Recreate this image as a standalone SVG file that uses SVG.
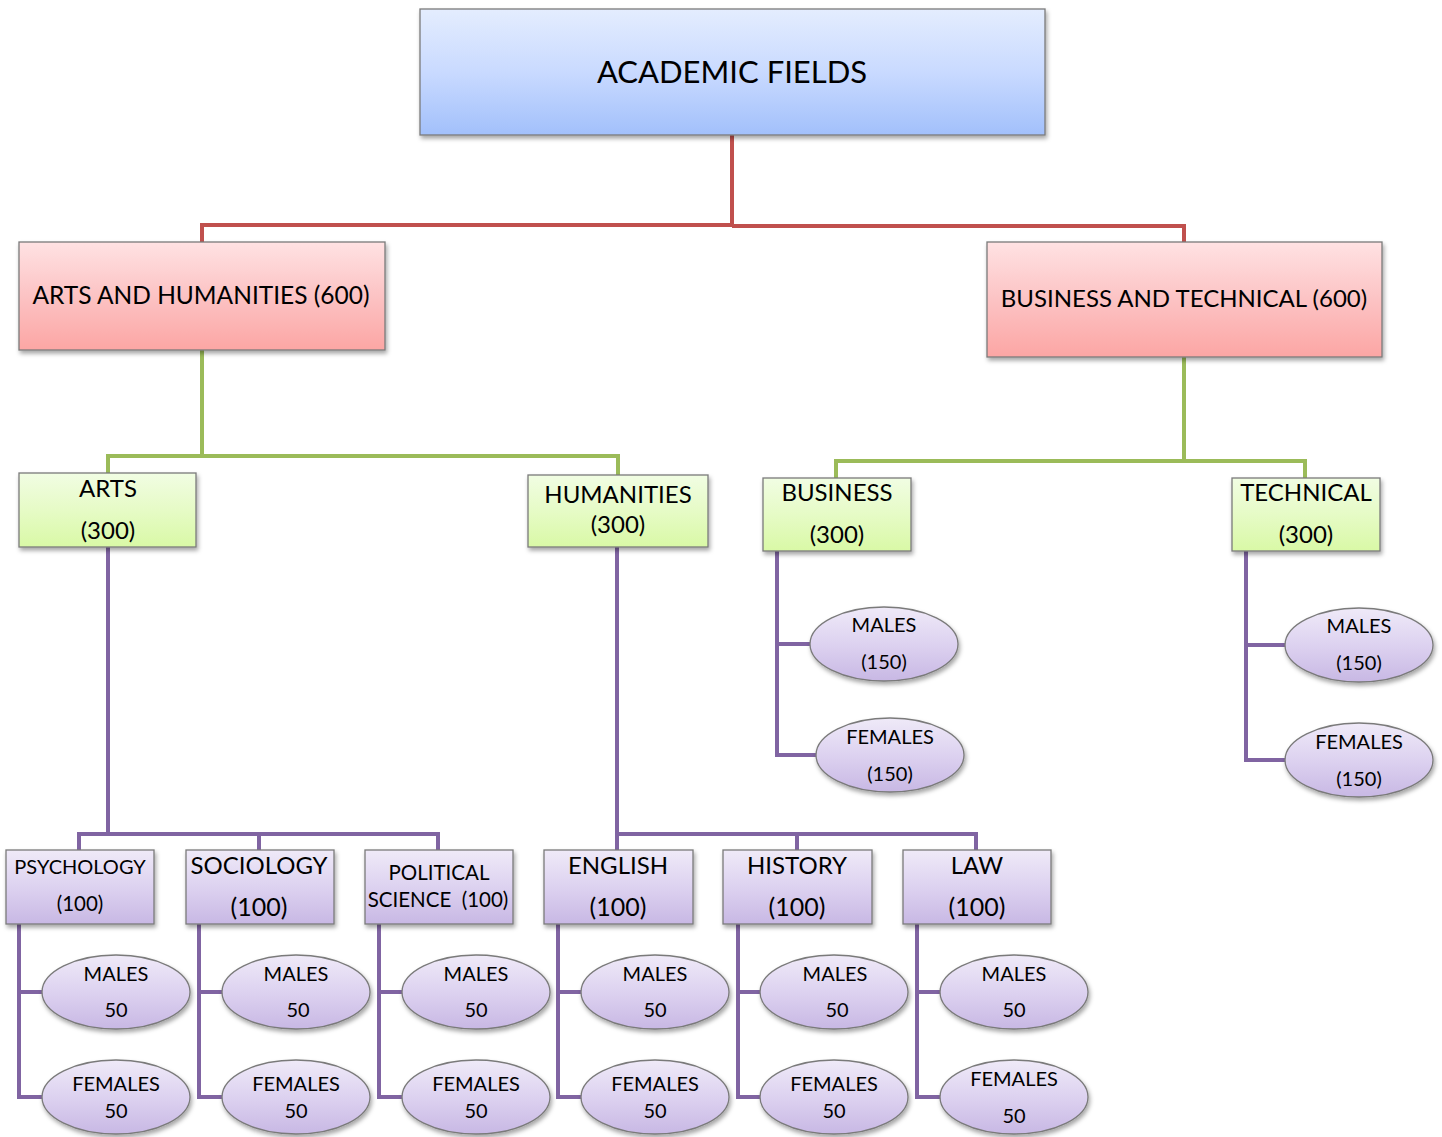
<svg xmlns="http://www.w3.org/2000/svg" width="1442" height="1137" viewBox="0 0 1442 1137">
<defs>
<linearGradient id="gBlue" x1="0" y1="0" x2="0" y2="1"><stop offset="0" stop-color="#e4edfe"/><stop offset="0.5" stop-color="#c9daff"/><stop offset="1" stop-color="#a2c0fb"/></linearGradient>
<linearGradient id="gRed" x1="0" y1="0" x2="0" y2="1"><stop offset="0" stop-color="#ffe2e3"/><stop offset="0.5" stop-color="#fcc3c4"/><stop offset="1" stop-color="#fca6a4"/></linearGradient>
<linearGradient id="gGreen" x1="0" y1="0" x2="0" y2="1"><stop offset="0" stop-color="#f1fde3"/><stop offset="0.5" stop-color="#e6fbc6"/><stop offset="1" stop-color="#d9f9a6"/></linearGradient>
<linearGradient id="gPurple" x1="0" y1="0" x2="0" y2="1"><stop offset="0" stop-color="#efeaf8"/><stop offset="0.5" stop-color="#ddd2f0"/><stop offset="1" stop-color="#c8b8e4"/></linearGradient>
<filter id="sh" x="-10%" y="-10%" width="125%" height="135%"><feDropShadow dx="1.5" dy="3" stdDeviation="2" flood-color="#000" flood-opacity="0.35"/></filter>
</defs>
<style>
.box{stroke:#7a7a7a;stroke-width:1.3;filter:url(#sh)}
.blue{fill:url(#gBlue)}.red{fill:url(#gRed)}.green{fill:url(#gGreen)}.purple{fill:url(#gPurple)}
.t{font-family:Lato,"Open Sans","Liberation Sans",sans-serif;fill:#000;text-anchor:middle}
.pre{white-space:pre}
.c1{fill:none;stroke:#c0504d;stroke-width:4}
.c2{fill:none;stroke:#9bbb59;stroke-width:4}
.c3{fill:none;stroke:#8064a2;stroke-width:4}
</style>
<rect width="1442" height="1137" fill="#fff"/>
<g id="connectors">
<path class="c1" d="M732 135 V225 M202 242 V225 H732 M1184 242 V226 H732"/>
<path class="c2" d="M202 350 V456 M108 473 V456 H618 V475"/>
<path class="c2" d="M1184 357 V461 M836 478 V461 H1305 V478"/>
<path class="c3" d="M108 547 V834 M79 850 V834 H438 V850 M259 834 V850"/>
<path class="c3" d="M617 547 V834 H976 V850 M617 834 V850 M797 834 V850"/>
<path class="c3" d="M777 551 V755 H816 M777 644 H810"/>
<path class="c3" d="M1246 551 V760 H1286 M1246 645 H1286"/>
<path class="c3" d="M19 924 V1097 H43 M19 992 H43"/>
<path class="c3" d="M199 924 V1097 H223 M199 992 H223"/>
<path class="c3" d="M379 924 V1097 H403 M379 992 H403"/>
<path class="c3" d="M558 924 V1097 H582 M558 992 H582"/>
<path class="c3" d="M738 924 V1097 H761 M738 992 H761"/>
<path class="c3" d="M917 924 V1097 H941 M917 992 H941"/>
</g>
<g id="academic-fields"><rect class="box blue" x="420" y="9" width="625" height="126"/><text class="t" x="732" y="83" font-size="31">ACADEMIC FIELDS</text></g>
<g id="arts-and-humanities"><rect class="box red" x="19" y="242" width="366" height="108"/><text class="t" x="201" y="304" font-size="24.5">ARTS AND HUMANITIES (600)</text></g>
<g id="business-and-technical"><rect class="box red" x="987" y="242" width="395" height="115"/><text class="t" x="1184" y="307" font-size="24">BUSINESS AND TECHNICAL (600)</text></g>
<g id="arts"><rect class="box green" x="19" y="473" width="177" height="74"/><text class="t" x="108" y="497" font-size="24">ARTS</text><text class="t" x="108" y="539" font-size="24">(300)</text></g>
<g id="humanities"><rect class="box green" x="528" y="475" width="180" height="72"/><text class="t" x="618" y="503" font-size="24">HUMANITIES</text><text class="t" x="618" y="533" font-size="24">(300)</text></g>
<g id="business"><rect class="box green" x="763" y="478" width="148" height="73"/><text class="t" x="837" y="501" font-size="24">BUSINESS</text><text class="t" x="837" y="543" font-size="24">(300)</text></g>
<g id="technical"><rect class="box green" x="1232" y="478" width="148" height="73"/><text class="t" x="1306" y="501" font-size="24">TECHNICAL</text><text class="t" x="1306" y="543" font-size="24">(300)</text></g>
<g id="business-males"><ellipse class="box purple" cx="884" cy="644" rx="74" ry="37"/><text class="t" x="884" y="632" font-size="20">MALES</text><text class="t" x="884" y="669" font-size="20">(150)</text></g>
<g id="business-females"><ellipse class="box purple" cx="890" cy="755" rx="74" ry="37"/><text class="t" x="890" y="744" font-size="20">FEMALES</text><text class="t" x="890" y="781" font-size="20">(150)</text></g>
<g id="technical-males"><ellipse class="box purple" cx="1359" cy="645" rx="74" ry="37"/><text class="t" x="1359" y="633" font-size="20">MALES</text><text class="t" x="1359" y="670" font-size="20">(150)</text></g>
<g id="technical-females"><ellipse class="box purple" cx="1359" cy="760" rx="74" ry="37"/><text class="t" x="1359" y="749" font-size="20">FEMALES</text><text class="t" x="1359" y="786" font-size="20">(150)</text></g>
<g id="psychology"><rect class="box purple" x="6" y="850" width="148" height="74"/><text class="t" x="80" y="874" font-size="20">PSYCHOLOGY</text><text class="t" x="80" y="911" font-size="20.5">(100)</text></g>
<g id="sociology"><rect class="box purple" x="186" y="850" width="148" height="74"/><text class="t" x="259" y="874" font-size="24">SOCIOLOGY</text><text class="t" x="259" y="916" font-size="25">(100)</text></g>
<g id="political-science"><rect class="box purple" x="365" y="850" width="148" height="74"/><text class="t" x="439" y="880" font-size="20.5">POLITICAL</text><text class="t pre" x="438" y="907" font-size="20.5">SCIENCE  (100)</text></g>
<g id="english"><rect class="box purple" x="544" y="850" width="149" height="74"/><text class="t" x="618" y="874" font-size="24">ENGLISH</text><text class="t" x="618" y="916" font-size="25">(100)</text></g>
<g id="history"><rect class="box purple" x="723" y="850" width="149" height="74"/><text class="t" x="797" y="874" font-size="24">HISTORY</text><text class="t" x="797" y="916" font-size="25">(100)</text></g>
<g id="law"><rect class="box purple" x="903" y="850" width="148" height="74"/><text class="t" x="977" y="874" font-size="24">LAW</text><text class="t" x="977" y="916" font-size="25">(100)</text></g>
<g id="psychology-males"><ellipse class="box purple" cx="116" cy="992" rx="74" ry="37"/><text class="t" x="116" y="981" font-size="20">MALES</text><text class="t" x="116" y="1017" font-size="20">50</text></g>
<g id="psychology-females"><ellipse class="box purple" cx="116" cy="1097" rx="74" ry="37"/><text class="t" x="116" y="1091" font-size="20">FEMALES</text><text class="t" x="116" y="1118" font-size="20">50</text></g>
<g id="sociology-males"><ellipse class="box purple" cx="296" cy="992" rx="74" ry="37"/><text class="t" x="296" y="981" font-size="20">MALES</text><text class="t" x="298" y="1017" font-size="20">50</text></g>
<g id="sociology-females"><ellipse class="box purple" cx="296" cy="1097" rx="74" ry="37"/><text class="t" x="296" y="1091" font-size="20">FEMALES</text><text class="t" x="296" y="1118" font-size="20">50</text></g>
<g id="political-males"><ellipse class="box purple" cx="476" cy="992" rx="74" ry="37"/><text class="t" x="476" y="981" font-size="20">MALES</text><text class="t" x="476" y="1017" font-size="20">50</text></g>
<g id="political-females"><ellipse class="box purple" cx="476" cy="1097" rx="74" ry="37"/><text class="t" x="476" y="1091" font-size="20">FEMALES</text><text class="t" x="476" y="1118" font-size="20">50</text></g>
<g id="english-males"><ellipse class="box purple" cx="655" cy="992" rx="74" ry="37"/><text class="t" x="655" y="981" font-size="20">MALES</text><text class="t" x="655" y="1017" font-size="20">50</text></g>
<g id="english-females"><ellipse class="box purple" cx="655" cy="1097" rx="74" ry="37"/><text class="t" x="655" y="1091" font-size="20">FEMALES</text><text class="t" x="655" y="1118" font-size="20">50</text></g>
<g id="history-males"><ellipse class="box purple" cx="834" cy="992" rx="74" ry="37"/><text class="t" x="835" y="981" font-size="20">MALES</text><text class="t" x="837" y="1017" font-size="20">50</text></g>
<g id="history-females"><ellipse class="box purple" cx="834" cy="1097" rx="74" ry="37"/><text class="t" x="834" y="1091" font-size="20">FEMALES</text><text class="t" x="834" y="1118" font-size="20">50</text></g>
<g id="law-males"><ellipse class="box purple" cx="1014" cy="992" rx="74" ry="37"/><text class="t" x="1014" y="981" font-size="20">MALES</text><text class="t" x="1014" y="1017" font-size="20">50</text></g>
<g id="law-females"><ellipse class="box purple" cx="1014" cy="1097" rx="74" ry="37"/><text class="t" x="1014" y="1086" font-size="20">FEMALES</text><text class="t" x="1014" y="1123" font-size="20">50</text></g>
</svg>
